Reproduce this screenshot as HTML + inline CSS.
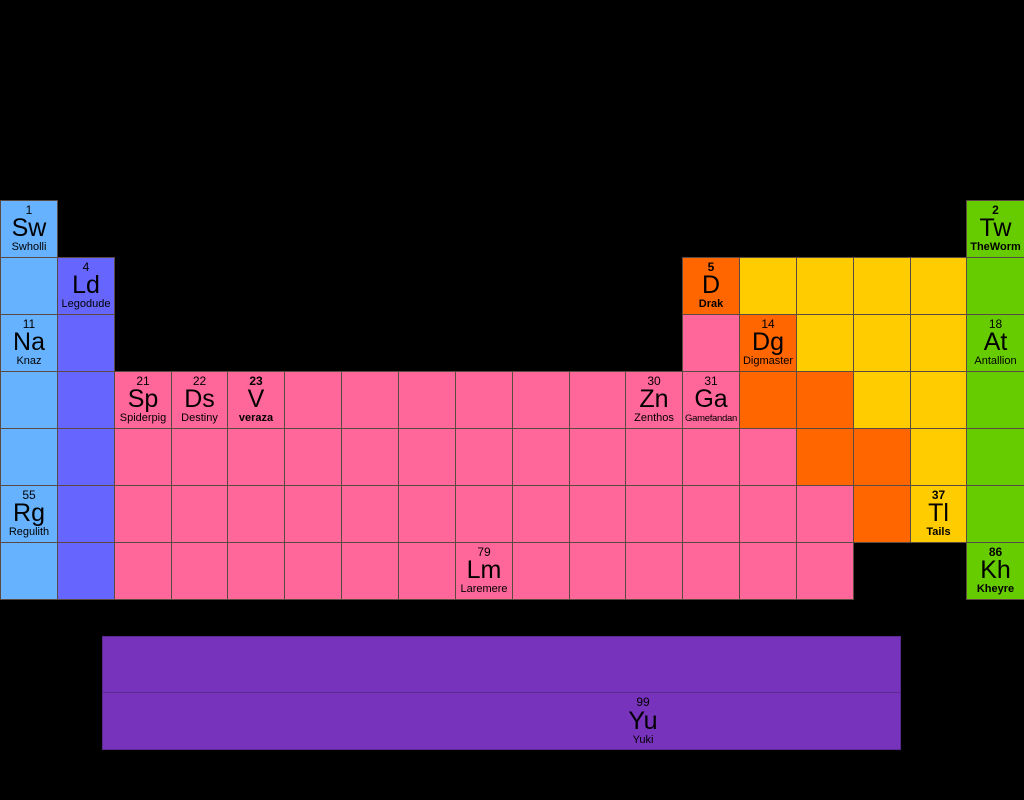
<!DOCTYPE html>
<html><head><meta charset="utf-8"><style>
body{margin:0;width:1024px;height:800px;background:#000;position:relative;overflow:hidden;font-family:"Liberation Sans",sans-serif}
.c{position:absolute;box-sizing:border-box;border:1px solid #5a4a40;text-align:center;color:#000}
.n{position:absolute;left:0;right:0;top:2px;font-size:12px;line-height:14px}
.s{position:absolute;left:0;right:0;top:13px;font-size:25px;line-height:28px}
.m{position:absolute;left:0;right:0;top:40px;font-size:11px;line-height:13px;white-space:nowrap}
.b{font-weight:bold}
.yu{left:500px;right:auto;width:80px}
</style></head><body>
<div id="g"></div>
<div class="c" style="left:102px;top:636px;width:799px;height:57px;background:#7733bb;border-color:#5a2a90"></div>
<div class="c" style="left:102px;top:692px;width:799px;height:58px;background:#7733bb;border-color:#5a2a90">
<div class="n yu" style="top:2px">99</div>
<div class="s yu" style="top:14px">Yu</div>
<div class="m yu" style="top:41px">Yuki</div></div>
<script>
var X=[];for(var i=0;i<=18;i++)X.push(Math.round(i*56.85));X[18]=1024;
var C={b:'#66b2ff',i:'#6666ff',p:'#ff6699',o:'#ff6600',y:'#ffcc00',g:'#66cc00'};
var rows=[
'b................g',
'bi..........oyyyyg',
'bi..........poyyyg',
'bipppppppppppooyyg',
'bippppppppppppooyg',
'bipppppppppppppoyg',
'bippppppppppppp..g'];
var labels={
'0,0':['1','Sw','Swholli'],'0,17':['2','Tw','TheWorm',1],
'1,1':['4','Ld','Legodude'],'1,12':['5','D','Drak',1],
'2,0':['11','Na','Knaz'],'2,13':['14','Dg','Digmaster'],'2,17':['18','At','Antallion'],
'3,2':['21','Sp','Spiderpig'],'3,3':['22','Ds','Destiny'],'3,4':['23','V','veraza',1],
'3,11':['30','Zn','Zenthos'],'3,12':['31','Ga','Gamefandan',0,1],
'5,0':['55','Rg','Regulith'],'5,16':['37','Tl','Tails',1],
'6,8':['79','Lm','Laremere'],'6,17':['86','Kh','Kheyre',1]};
var h='';
for(var r=0;r<7;r++)for(var c=0;c<18;c++){var k=rows[r][c];if(k=='.')continue;
var y=200+r*57;h+='<div class="c" style="left:'+X[c]+'px;top:'+y+'px;width:'+(X[c+1]-X[c]+1)+'px;height:58px;background:'+C[k]+'">';
var L=labels[r+','+c];if(L){var b=L[3]?' b':'';var st=L[4]?' style="font-size:9.5px;letter-spacing:-0.3px"':'';h+='<div class="n'+b+'">'+L[0]+'</div><div class="s">'+L[1]+'</div><div class="m'+b+'"'+st+'>'+L[2]+'</div>';}
h+='</div>';}
document.getElementById('g').innerHTML=h;
</script>
</body></html>
